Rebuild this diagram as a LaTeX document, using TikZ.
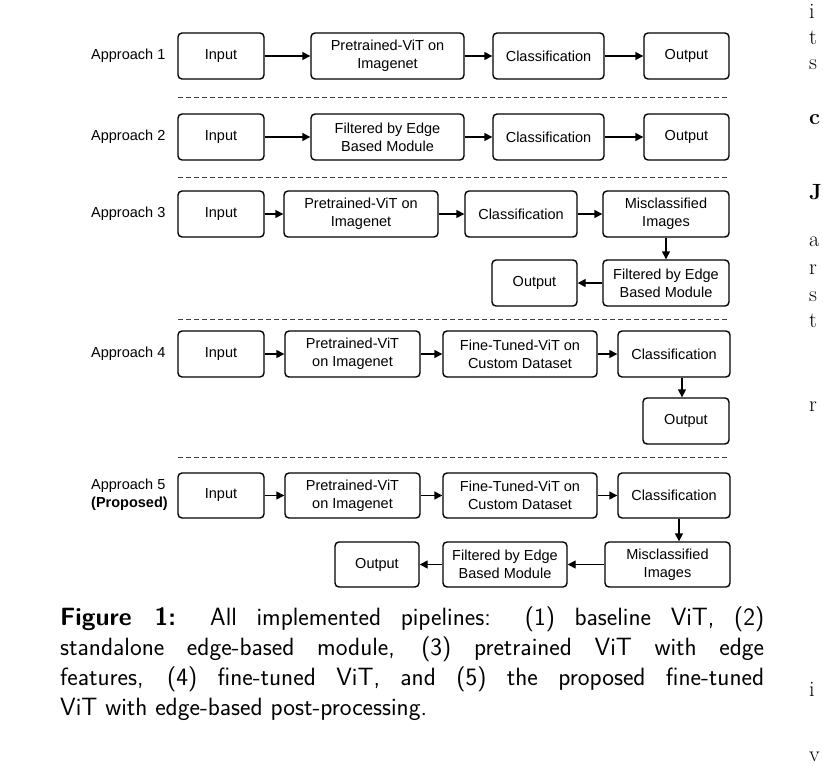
\documentclass[tikz,border=0pt]{standalone}
\usepackage{fontspec}
\newfontfamily\boxfont{Liberation Sans}
\usetikzlibrary{arrows.meta}
\tikzset{
  blk/.style={draw, line width=1.4pt, rounded corners=4pt, inner sep=0pt, align=center,
    font=\boxfont\fontsize{14.5}{18}\selectfont},
  arr/.style={-{Triangle[length=8pt,width=8pt]}, line width=1.4pt},
  sepline/.style={dash pattern=on 4.5pt off 3.5pt, line width=1pt, black!75},
  lbl/.style={anchor=west, inner sep=0pt, align=left, font=\boxfont\fontsize{14.5}{18}\selectfont},
  capline/.style={anchor=base west, inner sep=0pt, font=\sffamily\fontsize{25}{30}\selectfont},
  frag/.style={anchor=base west, inner sep=0pt, font=\rmfamily\fontsize{22}{27}\selectfont},
}
\newcommand\bx[6]{\node[blk, minimum width={#4-#2}, minimum height={#5-#3}] (#1) at ({(#2+#4)/2},{(#3+#5)/2}) {#6};}
\begin{document}
\begin{tikzpicture}[x=1pt, y=-1pt]
\useasboundingbox (0,0) rectangle (823,766);
\fill[white] (0,0) rectangle (823,766);

% Approach 1
\node[lbl] (l1) at (91,56) {Approach 1};
\bx{in1}{178}{33}{264}{79}{Input}
\bx{pre1}{311}{33}{464}{79}{Pretrained-ViT on\\Imagenet}
\bx{cls1}{493}{33}{604}{79}{Classification}
\bx{out1}{644}{33}{729}{79}{Output}
\draw[arr] (in1) -- (pre1);
\draw[arr] (pre1) -- (cls1);
\draw[arr] (cls1) -- (out1);
\coordinate (d1a) at (178,97); \coordinate (d1b) at (730,97);
\draw[sepline] (d1a) -- (d1b);

% Approach 2
\node[lbl] (l2) at (91,137) {Approach 2};
\bx{in2}{178}{114}{264}{160}{Input}
\bx{pre2}{311}{114}{464}{160}{Filtered by Edge\\Based Module}
\bx{cls2}{493}{114}{604}{160}{Classification}
\bx{out2}{644}{114}{729}{160}{Output}
\draw[arr] (in2) -- (pre2);
\draw[arr] (pre2) -- (cls2);
\draw[arr] (cls2) -- (out2);
\coordinate (d2a) at (178,177); \coordinate (d2b) at (730,177);
\draw[sepline] (d2a) -- (d2b);

% Approach 3
\node[lbl] (l3) at (91,214) {Approach 3};
\bx{in3}{178}{191}{264}{237}{Input}
\bx{pre3}{284}{191}{438}{237}{Pretrained-ViT on\\Imagenet}
\bx{cls3}{465}{191}{577}{237}{Classification}
\bx{mis3}{603}{191}{729}{237}{Misclassified\\Images}
\bx{out3}{492}{260}{577}{306}{Output}
\bx{fil3}{603}{260}{729}{306}{Filtered by Edge\\Based Module}
\draw[arr] (in3) -- (pre3);
\draw[arr] (pre3) -- (cls3);
\draw[arr] (cls3) -- (mis3);
\draw[arr] (mis3) -- (fil3);
\draw[arr] (fil3) -- (out3);
\coordinate (d3a) at (178,319); \coordinate (d3b) at (730,319);
\draw[sepline] (d3a) -- (d3b);

% Approach 4
\node[lbl] (l4) at (91,354) {Approach 4};
\bx{in4}{178}{331}{264}{377}{Input}
\bx{pre4}{285}{331}{420}{377}{Pretrained-ViT\\on Imagenet}
\bx{fine4}{443}{331}{597}{377}{Fine-Tuned-ViT on\\Custom Dataset}
\bx{cls4}{618}{331}{730}{377}{Classification}
\bx{out4}{643}{398}{729}{444}{Output}
\draw[arr] (in4) -- (pre4);
\draw[arr] (pre4) -- (fine4);
\draw[arr] (fine4) -- (cls4);
\coordinate (v4) at (682,0);
\draw[arr] (v4 |- cls4.south) -- (v4 |- out4.north);
\coordinate (d4a) at (178,457); \coordinate (d4b) at (730,457);
\draw[sepline] (d4a) -- (d4b);

% Approach 5
\node[lbl] (l5) at (91,495) {Approach 5\\\textbf{(Proposed)}};
\bx{in5}{178}{473}{264}{518}{Input}
\bx{pre5}{285}{473}{420}{518}{Pretrained-ViT\\on Imagenet}
\bx{fine5}{443}{473}{597}{518}{Fine-Tuned-ViT on\\Custom Dataset}
\bx{cls5}{618}{473}{730}{518}{Classification}
\bx{out5}{335}{542}{419}{587}{Output}
\bx{fil5}{443}{542}{567}{587}{Filtered by Edge\\Based Module}
\bx{mis5}{605}{542}{730}{587}{Misclassified\\Images}
\draw[arr] (in5) -- (pre5);
\draw[arr] (pre5) -- (fine5);
\draw[arr] (fine5) -- (cls5);
\coordinate (v5) at (679,0);
\draw[arr] (v5 |- cls5.south) -- (v5 |- mis5.north);
\draw[arr] (mis5) -- (fil5);
\draw[arr] (fil5) -- (out5);

% Caption
\node[capline] (c1) at (60,625) {\makebox[704pt][s]{\textbf{Figure 1:} All implemented pipelines: (1) baseline ViT, (2)}};
\node[capline] (c2) at (60,655) {\makebox[704pt][s]{standalone edge-based module, (3) pretrained ViT with edge}};
\node[capline] (c3) at (60,685) {\makebox[704pt][s]{features, (4) fine-tuned ViT, and (5) the proposed fine-tuned}};
\node[capline] (c4) at (60,715) {ViT with edge-based post-processing.};

% fragments of the neighbouring column
\node[frag] (f1) at (809,18) {i};
\node[frag] (f2) at (809,44) {t};
\node[frag] (f3) at (809,69) {s};
\node[frag] (f4) at (809,124) {\textbf{c}};
\node[frag] (f5) at (809,199) {\textbf{J}};
\node[frag] (f6) at (809,246) {a};
\node[frag] (f7) at (809,274) {r};
\node[frag] (f8) at (809,301) {s};
\node[frag] (f9) at (809,327) {t};
\node[frag] (f10) at (809,411) {r};
\node[frag] (f11) at (809,696) {i};
\node[frag] (f12) at (809,761) {v};
\end{tikzpicture}
\end{document}
